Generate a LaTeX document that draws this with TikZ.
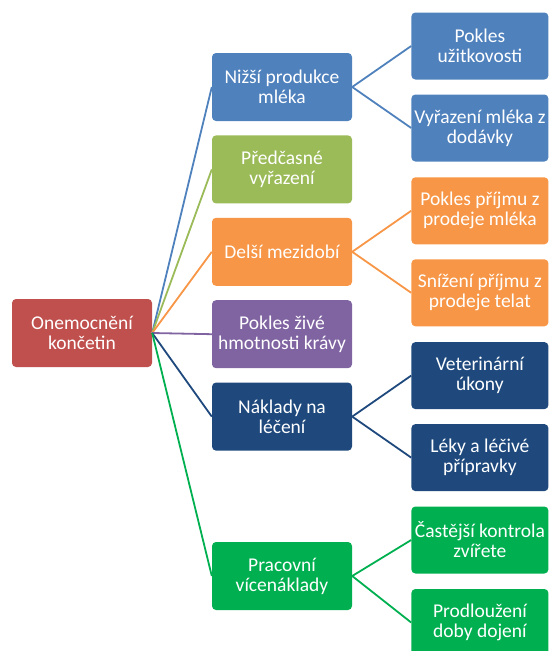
\documentclass[tikz,border=0pt]{standalone}
\usepackage{fontspec}
\setmainfont{Carlito}
\usepackage{xcolor}
\usetikzlibrary{positioning}
\definecolor{rootred}{HTML}{C0504D}
\definecolor{milkblue}{HTML}{4F81BD}
\definecolor{cullgreen}{HTML}{9BBB59}
\definecolor{calforange}{HTML}{F79646}
\definecolor{weightpurple}{HTML}{8064A2}
\definecolor{costnavy}{HTML}{1F497D}
\definecolor{workgreen}{HTML}{00B050}
\tikzset{
  box/.style     = {rounded corners=4pt, text=white, align=center,
                    inner sep=2pt, font=\fontsize{19.5}{20}\selectfont},
  rootbox/.style = {box, fill=rootred, minimum width=140pt,
                    minimum height=68pt},
  midbox/.style  = {box, minimum width=140pt, minimum height=68pt},
  leafbox/.style = {box, minimum width=137pt, minimum height=67pt},
  link/.style    = {line width=1.8pt}
}
\begin{document}
\begin{tikzpicture}[x=1pt,y=1pt]
\useasboundingbox (0,0) rectangle (549,-651);
\node[rootbox] (root) at (82,-333) {Onemocnění\\končetin};
\node[midbox, fill=milkblue] (milk) at (282,-87) {Nižší produkce\\mléka};
\node[midbox, fill=cullgreen,    below=14pt of milk]   (cull)   {Předčasné\\vyřazení};
\node[midbox, fill=calforange,   below=14pt of cull]   (calf)   {Delší mezidobí};
\node[midbox, fill=weightpurple, below=14pt of calf]   (weight) {Pokles živé\\hmotnosti krávy};
\node[midbox, fill=costnavy,     below=14pt of weight] (cost)   {Náklady na\\léčení};
\node[midbox, fill=workgreen,    below=91pt of cost]   (work)   {Pracovní\\vícenáklady};
\node[leafbox, fill=milkblue,   right=59pt of milk, yshift=41pt]   (yield)   {Pokles\\užitkovosti};
\node[leafbox, fill=milkblue,   right=59pt of milk, yshift=-41pt]  (discard) {Vyřazení mléka z\\dodávky};
\node[leafbox, fill=calforange, right=59pt of calf, yshift=41pt]   (milkinc) {Pokles příjmu z\\prodeje mléka};
\node[leafbox, fill=calforange, right=59pt of calf, yshift=-41pt]  (calfinc) {Snížení příjmu z\\prodeje telat};
\node[leafbox, fill=costnavy,   right=59pt of cost, yshift=41pt]   (vet)     {Veterinární\\úkony};
\node[leafbox, fill=costnavy,   right=59pt of cost, yshift=-41pt]  (drugs)   {Léky a léčivé\\přípravky};
\node[leafbox, fill=workgreen,  right=59pt of work, yshift=36pt]   (check)   {Častější kontrola\\zvířete};
\node[leafbox, fill=workgreen,  right=59pt of work, yshift=-46.5pt] (milking) {Prodloužení\\doby dojení};
% root to causes
\draw[link, milkblue]     (root.east) -- (milk.west);
\draw[link, cullgreen]    (root.east) -- (cull.west);
\draw[link, calforange]   (root.east) -- (calf.west);
\draw[link, weightpurple] (root.east) -- (weight.west);
\draw[link, costnavy]     (root.east) -- (cost.west);
\draw[link, workgreen]    (root.east) -- (work.west);
% causes to effects
\draw[link, milkblue]   (milk.east) -- (yield.west);
\draw[link, milkblue]   (milk.east) -- (discard.west);
\draw[link, calforange] (calf.east) -- (milkinc.west);
\draw[link, calforange] (calf.east) -- (calfinc.west);
\draw[link, costnavy]   (cost.east) -- (vet.west);
\draw[link, costnavy]   (cost.east) -- (drugs.west);
\draw[link, workgreen]  (work.east) -- (check.west);
\draw[link, workgreen]  (work.east) -- (milking.west);
\end{tikzpicture}
\end{document}
